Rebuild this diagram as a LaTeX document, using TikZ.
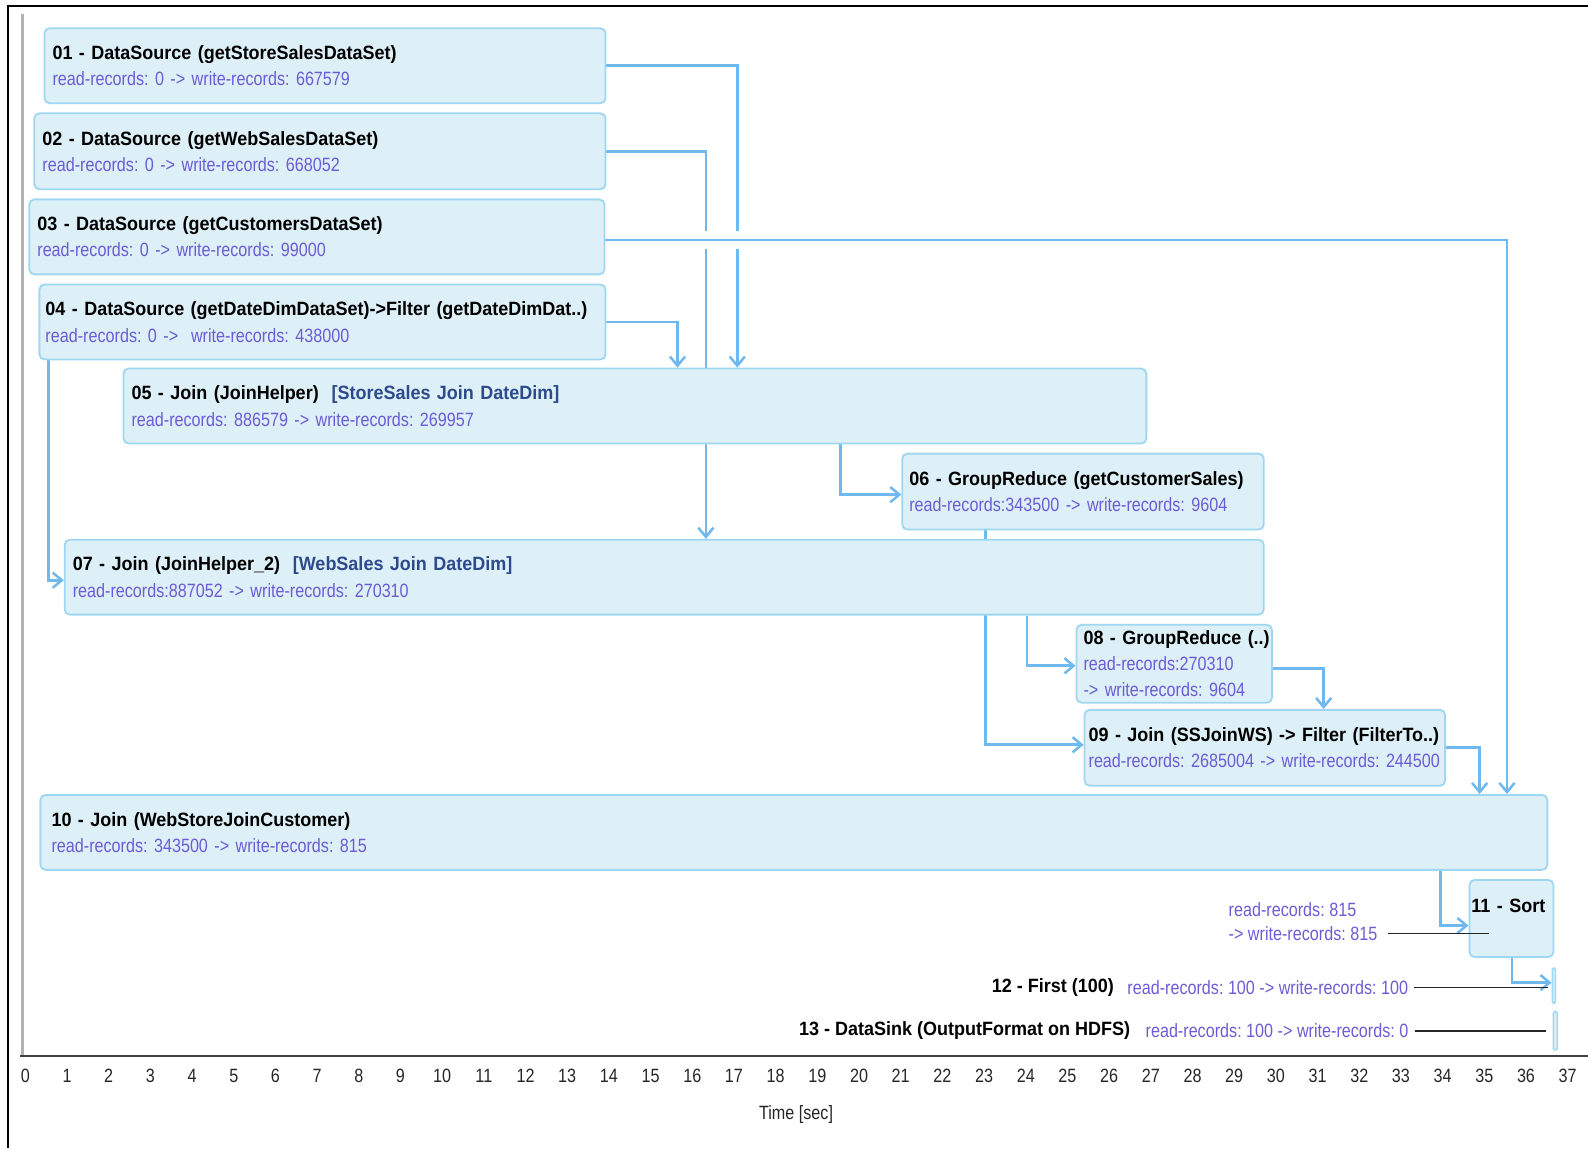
\documentclass[tikz,border=0pt]{standalone}
\usepackage{fontspec}
\setmainfont{Liberation Sans}
\newfontfamily\tfont{Liberation Sans}[FakeStretch=0.935]
\newfontfamily\rfont{Liberation Sans}[FakeStretch=0.84]
\usetikzlibrary{arrows.meta}
\definecolor{boxfill}{RGB}{221,239,247}
\definecolor{boxline}{RGB}{160,215,240}
\definecolor{connc}{RGB}{112,185,238}
\definecolor{recc}{RGB}{108,92,214}
\definecolor{brkc}{RGB}{45,75,140}
\frenchspacing
\newcommand\boxtitle[1]{\mbox{\tfont\bfseries #1}}
\newcommand\boxrec[1]{\mbox{\rfont\color{recc}#1}}
\tikzset{
  opbox/.style={draw=boxline, fill=boxfill, line width=1.8pt, rounded corners=5pt,
    anchor=north west, inner xsep=8pt, inner ysep=0pt, align=left,
    font=\fontsize{19}{26}\selectfont},
  bar/.style={draw=boxline, fill=boxfill, line width=1.5pt, rounded corners=1.5pt,
    anchor=north west, inner sep=0pt},
  conn/.style={draw=connc, line width=2.7pt,
    -{Straight Barb[length=9pt,width=15pt,line width=2.5pt]}},
  lbl/.style={inner sep=4pt, font=\fontsize{19}{24}\selectfont, align=left},
  blk/.style={draw=black!85, line width=1.3pt},
  tick/.style={font=\rfont\fontsize{19}{22}\selectfont, text=black!85}
}
\begin{document}
\begin{tikzpicture}[x=1pt,y=-1pt]
\useasboundingbox (0,0) rectangle (1568,1134);
% frame
\draw[black, line width=2.2pt] (8,1134) -- (8,6) -- (1568,6);
\draw[black!30, line width=3pt] (22,14) -- (22,1043);

% box geometry (invisible placeholders, drawn over later)
\path
 node[opbox, draw=none, fill=none, minimum width=554pt, minimum height=74pt, text width=538pt] (n01) at (43,27) {}
 node[opbox, draw=none, fill=none, minimum width=564pt, minimum height=75pt, text width=548pt] (n02) at (33,111) {}
 node[opbox, draw=none, fill=none, minimum width=568pt, minimum height=74pt, text width=552pt] (n03) at (28,196) {}
 node[opbox, draw=none, fill=none, minimum width=559pt, minimum height=74pt, text width=543pt] (n04) at (38,280) {}
 node[opbox, draw=none, fill=none, minimum width=1010pt, minimum height=74pt, text width=994pt] (n05) at (121,363) {}
 node[opbox, draw=none, fill=none, minimum width=357pt, minimum height=75pt, text width=341pt] (n06) at (890,447) {}
 node[opbox, draw=none, fill=none, minimum width=1184pt, minimum height=74pt, text width=1168pt] (n07) at (63,532) {}
 node[opbox, draw=none, fill=none, minimum width=193pt, minimum height=77pt, text width=177pt] (n08) at (1062,616) {}
 node[opbox, draw=none, fill=none, minimum width=356pt, minimum height=75pt, text width=340pt] (n09) at (1070,700) {}
 node[opbox, draw=none, fill=none, minimum width=1488pt, minimum height=74pt, text width=1472pt] (n10) at (39,784) {}
 node[opbox, draw=none, fill=none, minimum width=83pt, minimum height=76pt, text width=75pt, inner xsep=4pt] (n11) at (1450,868) {}
 node[bar, draw=none, fill=none, minimum width=3pt, minimum height=35pt] (n12) at (1532,955) {}
 node[bar, draw=none, fill=none, minimum width=4pt, minimum height=38pt] (n13) at (1533,998) {};

% connectors
\draw[conn] (n01.east) -| ([xshift=607pt]n05.north west);
\draw[conn] (n02.east) -| ([xshift=634pt]n07.north west);
\fill[white] (690,228) rectangle (735,246);
\draw[conn] ([yshift=-3pt]n03.east) -| ([xshift=1449pt]n10.north west);
\draw[conn] (n04.east) -| ([xshift=548pt]n05.north west);
\draw[conn] ([xshift=10pt]n04.south west) |- ([yshift=-3pt]n07.west);
\draw[conn] ([xshift=709pt]n05.south west) |- ([yshift=-3pt]n06.west);
\draw[conn] ([xshift=83pt]n06.south west) |- ([yshift=3pt]n09.west);
\draw[conn] ([xshift=951pt]n07.south west) |- ([yshift=-2pt]n08.west);
\draw[conn] ([yshift=-5pt]n08.east) -| ([xshift=237pt]n09.north west);
\draw[conn] (n09.east) -| ([xshift=1422pt]n10.north west);
\draw[conn] ([xshift=1383pt]n10.south west) |- ([yshift=-7pt]n11.west);
\draw[conn] ([xshift=43pt]n11.south west) |- ([yshift=3pt]n12.west);

% visible boxes
\node[opbox, minimum width=554pt, minimum height=74pt, text width=538pt] at (n01.north west)
 {\boxtitle{01 - DataSource (getStoreSalesDataSet)}\\\boxrec{read-records: 0 -> write-records: 667579}};
\node[opbox, minimum width=564pt, minimum height=75pt, text width=548pt] at (n02.north west)
 {\boxtitle{02 - DataSource (getWebSalesDataSet)}\\\boxrec{read-records: 0 -> write-records: 668052}};
\node[opbox, minimum width=568pt, minimum height=74pt, text width=552pt] at (n03.north west)
 {\boxtitle{03 - DataSource (getCustomersDataSet)}\\\boxrec{read-records: 0 -> write-records: 99000}};
\node[opbox, minimum width=559pt, minimum height=74pt, text width=551pt, inner xsep=4pt] at (n04.north west)
 {\hspace*{2pt}\boxtitle{04 - DataSource (getDateDimDataSet)->Filter (getDateDimDat..)}\\\hspace*{2pt}\boxrec{read-records: 0 ->\ \ write-records: 438000}};
\node[opbox, minimum width=1010pt, minimum height=74pt, text width=994pt] at (n05.north west)
 {\mbox{\boxtitle{05 - Join (JoinHelper)}\ \ {\tfont\bfseries\color{brkc}[StoreSales Join DateDim]}}\\\boxrec{read-records: 886579 -> write-records: 269957}};
\node[opbox, minimum width=357pt, minimum height=75pt, text width=343pt, inner xsep=7pt] at (n06.north west)
 {\boxtitle{06 - GroupReduce (getCustomerSales)}\\\boxrec{read-records:343500 -> write-records: 9604}};
\node[opbox, minimum width=1184pt, minimum height=74pt, text width=1168pt] at (n07.north west)
 {\mbox{\boxtitle{07 - Join (JoinHelper\_2)}\ \ {\tfont\bfseries\color{brkc}[WebSales Join DateDim]}}\\\boxrec{read-records:887052 -> write-records: 270310}};
\node[opbox, minimum width=193pt, minimum height=77pt, text width=179pt, inner xsep=7pt, font=\fontsize{19}{25.5}\selectfont] at (n08.north west)
 {\boxtitle{08 - GroupReduce (..)}\\\boxrec{read-records:270310}\\\boxrec{-> write-records: 9604}};
\node[opbox, minimum width=356pt, minimum height=75pt, text width=348pt, inner xsep=4pt] at (n09.north west)
 {\boxtitle{09 - Join (SSJoinWS) -> Filter (FilterTo..)}\\\boxrec{read-records: 2685004 -> write-records: 244500}};
\node[opbox, minimum width=1488pt, minimum height=74pt, text width=1472pt] at (n10.north west)
 {\hspace*{3pt}\boxtitle{10 - Join (WebStoreJoinCustomer)}\\\hspace*{3pt}\boxrec{read-records: 343500 -> write-records: 815}};
\node[opbox, minimum width=83pt, minimum height=76pt, text width=79pt, inner xsep=2pt] at (n11.north west)
 {\boxtitle{11 - Sort}\\[-8pt]\strut};
\node[bar, minimum width=3pt, minimum height=35pt] at (n12.north west) {};
\node[bar, minimum width=4pt, minimum height=38pt] at (n13.north west) {};

% labels for 11, 12, 13
\node[lbl, anchor=west] (l11) at (1209,910) {\boxrec{read-records: 815}\\\boxrec{-> write-records: 815}};
\draw[blk] ([yshift=-12pt,xshift=6pt]l11.east) coordinate (b11) -- ([xshift=20pt]n11.west |- b11);
\node[lbl, anchor=east] (t12) at (1104,975) {\boxtitle{12 - First (100)}};
\node[lbl, anchor=west] (r12) at (1109,975) {\boxrec{read-records: 100 -> write-records: 100}};
\draw[blk] ([xshift=2pt]r12.east) -- ([xshift=-4pt]n12.west |- r12.east);
\node[lbl, anchor=east] (t13) at (1120,1018) {\boxtitle{13 - DataSink (OutputFormat on HDFS)}};
\node[lbl, anchor=west] (r13) at (1127,1018) {\boxrec{read-records: 100 -> write-records: 0}};
\draw[blk] ([xshift=2pt]r13.east) -- ([xshift=-6pt]n13.west |- r13.east);

% time axis
\draw[black!75, line width=2pt] (20,1043) coordinate (ax0) -- (1568,1043) coordinate (ax1);
\foreach \i in {0,...,37} {
  \node[tick] (tk\i) at ({25+41.16*\i},1062) {\i};
}
\node[tick] (tlabel) at (786,1100) {Time [sec]};
\end{tikzpicture}
\end{document}
